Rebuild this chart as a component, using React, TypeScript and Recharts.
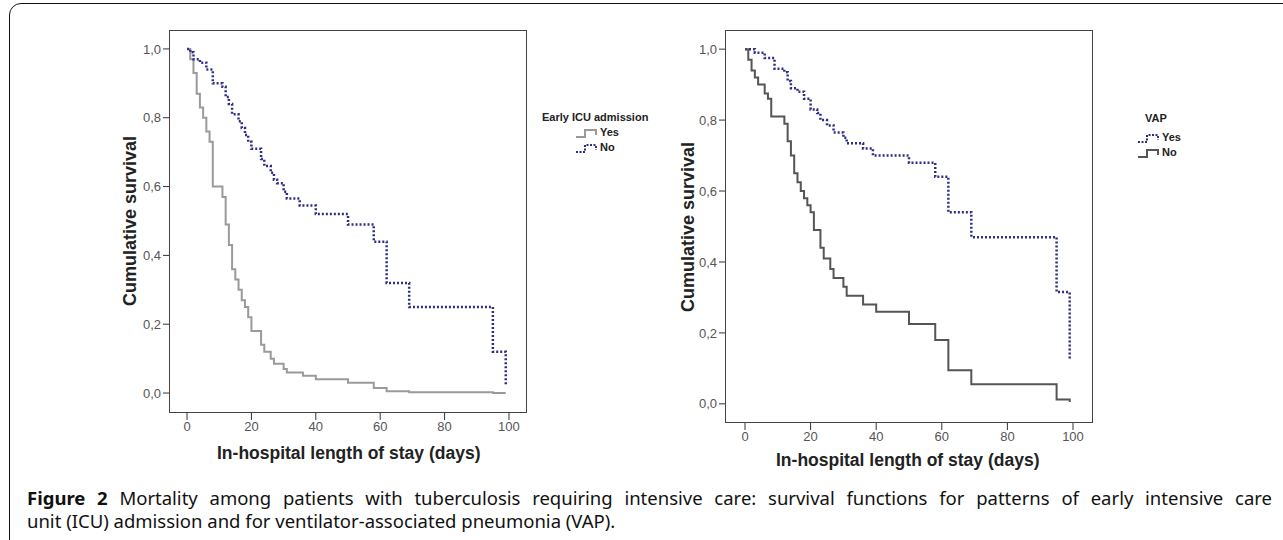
import React from 'react';
import { LineChart, Line, XAxis, YAxis } from 'recharts';

// Early ICU admission (left panel)
const icuYesTimes = [0, 1, 2, 3, 4, 5, 6, 7, 8, 11, 12, 13, 14, 15, 16, 17, 18, 19, 20, 23, 24, 26, 27, 30, 31, 36, 40, 50, 58, 62, 69, 95, 99];
const icuYesSurv = [1.0, 0.97, 0.93, 0.87, 0.83, 0.8, 0.76, 0.73, 0.6, 0.57, 0.49, 0.43, 0.36, 0.33, 0.3, 0.27, 0.25, 0.22, 0.18, 0.14, 0.12, 0.1, 0.085, 0.07, 0.06, 0.05, 0.04, 0.03, 0.015, 0.005, 0.002, 0.0, 0.0];
const icuNoTimes = [0, 1, 2, 4, 6, 8, 11, 12, 13, 14, 16, 17, 18, 19, 20, 23, 24, 26, 27, 28, 30, 31, 35, 40, 50, 58, 62, 69, 95, 99];
const icuNoSurv = [1.0, 0.99, 0.97, 0.96, 0.94, 0.9, 0.89, 0.86, 0.84, 0.81, 0.79, 0.77, 0.75, 0.73, 0.71, 0.68, 0.66, 0.64, 0.62, 0.61, 0.585, 0.565, 0.545, 0.52, 0.49, 0.44, 0.32, 0.25, 0.12, 0.02];

// VAP (right panel)
const vapYesTimes = [0, 3, 6, 9, 12, 13, 14, 16, 18, 20, 22, 23, 25, 27, 30, 31, 36, 39, 50, 58, 62, 69, 95, 99];
const vapYesSurv = [1.0, 0.99, 0.975, 0.945, 0.935, 0.91, 0.89, 0.88, 0.86, 0.83, 0.82, 0.8, 0.785, 0.765, 0.75, 0.735, 0.72, 0.7, 0.68, 0.64, 0.54, 0.47, 0.315, 0.125];
const vapNoTimes = [0, 1, 2, 3, 4, 6, 7, 8, 12, 13, 14, 15, 16, 17, 18, 19, 20, 21, 23, 24, 26, 27, 30, 31, 36, 40, 50, 58, 62, 69, 95, 99];
const vapNoSurv = [1.0, 0.97, 0.94, 0.92, 0.9, 0.875, 0.86, 0.81, 0.79, 0.74, 0.7, 0.65, 0.625, 0.6, 0.58, 0.56, 0.54, 0.49, 0.44, 0.41, 0.38, 0.355, 0.33, 0.305, 0.28, 0.26, 0.225, 0.18, 0.095, 0.055, 0.012, 0.005];

const xTicks = [0, 20, 40, 60, 80, 100];
const yTicks = [0, 0.2, 0.4, 0.6, 0.8, 1.0];

const toRows = (t: number[], s: number[]) => t.map((x, i) => ({ t: x, s: s[i] }));

const BLUE = '#2e2e86';
const tickStyle = { fill: '#555', fontSize: 13, fontFamily: 'Liberation Sans, Arial' };
const axisLabel: React.CSSProperties = { position: 'absolute', fontFamily: 'Liberation Sans, Arial', fontWeight: 'bold', fontSize: 17.5, lineHeight: '20px', color: '#222', whiteSpace: 'nowrap' };

interface PanelProps {
  frame: [number, number, number, number]; // x0, y0, x1, y1 of plot box
  xDomain: [number, number]; yDomain: [number, number];
  series: { data: { t: number; s: number }[]; color: string; dash?: string; width: number }[];
}

function Panel({ frame, xDomain, yDomain, series }: PanelProps) {
  const [x0, y0, x1, y1] = frame;
  const W = 1283, H = 480;
  return (
    <div style={{ position: 'absolute', left: 0, top: 0, width: W, height: H }}>
      <LineChart width={W} height={H} margin={{ left: x0 - 45, top: y0, right: W - x1, bottom: H - y1 - 30 }}>
        <XAxis type="number" dataKey="t" domain={xDomain} ticks={xTicks} allowDataOverflow height={30}
          axisLine={false} tickSize={7} tick={tickStyle} tickLine={{ stroke: '#333' }} />
        <YAxis type="number" dataKey="s" domain={yDomain} ticks={yTicks} allowDataOverflow width={45}
          axisLine={false} tickSize={6} tick={tickStyle} tickLine={{ stroke: '#333' }}
          tickFormatter={(v: number) => v.toFixed(1).replace('.', ',')} />
        {series.map((s, i) => (
          <Line key={i} data={s.data} dataKey="s" type="stepAfter" stroke={s.color} strokeWidth={s.width}
            strokeDasharray={s.dash} dot={false} isAnimationActive={false} />
        ))}
      </LineChart>
      <div style={{ position: 'absolute', left: x0, top: y0, width: x1 - x0, height: y1 - y0, border: '1.5px solid #444', boxSizing: 'border-box', pointerEvents: 'none' }} />
    </div>
  );
}

function LegendIcon({ color, dash }: { color: string; dash?: string }) {
  return (
    <svg width={25} height={11} style={{ verticalAlign: 'middle' }}>
      <polyline points="1,9 10,9 10,2 21,2 21,7" fill="none" stroke={color} strokeWidth={2} strokeDasharray={dash} />
    </svg>
  );
}

const legendText: React.CSSProperties = { fontFamily: 'Liberation Sans, Arial', fontWeight: 'bold', fontSize: 11, color: '#222', lineHeight: '15px', whiteSpace: 'nowrap' };
const captionText: React.CSSProperties = { fontFamily: '"Noto Sans", "Open Sans", sans-serif', fontSize: 18.5, lineHeight: '23px', color: '#111' };

export default function App() {
  return (
    <div style={{ position: 'absolute', left: 0, top: 0, width: 1283, height: 540, background: '#fff', overflow: 'hidden' }}>
      <div style={{ position: 'absolute', left: 9, top: 3, width: 1290, height: 560, border: '1.5px solid #111', borderRadius: 12, boxSizing: 'border-box' }} />

      <Panel frame={[169, 30, 527, 413]} xDomain={[-5.6, 105.6]} yDomain={[-0.058, 1.055]}
        series={[
          { data: toRows(icuYesTimes, icuYesSurv), color: '#9a9a9a', width: 2 },
          { data: toRows(icuNoTimes, icuNoSurv), color: BLUE, dash: '2 2', width: 2.5 },
        ]} />
      <Panel frame={[725, 30, 1093, 423]} xDomain={[-6.1, 106.1]} yDomain={[-0.054, 1.054]}
        series={[
          { data: toRows(vapYesTimes, vapYesSurv), color: BLUE, dash: '2 2', width: 2.5 },
          { data: toRows(vapNoTimes, vapNoSurv), color: '#555', width: 2 },
        ]} />

      <div style={{ ...axisLabel, left: 217, top: 443 }}>In-hospital length of stay (days)</div>
      <div style={{ ...axisLabel, left: 776, top: 450 }}>In-hospital length of stay (days)</div>
      <div style={{ ...axisLabel, fontSize: 18, left: 130 - 100, top: 221 - 10, width: 200, textAlign: 'center', transform: 'rotate(-90deg)' }}>Cumulative survival</div>
      <div style={{ ...axisLabel, fontSize: 18, left: 688 - 100, top: 227 - 10, width: 200, textAlign: 'center', transform: 'rotate(-90deg)' }}>Cumulative survival</div>

      <div style={{ position: 'absolute', left: 542, top: 110 }}>
        <div style={legendText}>Early ICU admission</div>
        <div style={{ ...legendText, paddingLeft: 33 }}><LegendIcon color="#9a9a9a" />Yes</div>
        <div style={{ ...legendText, paddingLeft: 33 }}><LegendIcon color={BLUE} dash="2 1.5" />No</div>
      </div>
      <div style={{ position: 'absolute', left: 1137, top: 111 }}>
        <div style={{ ...legendText, paddingLeft: 8, marginBottom: 4 }}>VAP</div>
        <div style={legendText}><LegendIcon color={BLUE} dash="2 1.5" />Yes</div>
        <div style={legendText}><LegendIcon color="#555" />No</div>
      </div>

      <div style={{ position: 'absolute', left: 27, top: 486, width: 1245 }}>
        <div style={{ ...captionText, textAlign: 'justify', textAlignLast: 'justify', whiteSpace: 'nowrap' }}>
          <b>Figure 2</b> Mortality among patients with tuberculosis requiring intensive care: survival functions for patterns of early intensive care
        </div>
        <div style={captionText}>unit (ICU) admission and for ventilator-associated pneumonia (VAP).</div>
      </div>
    </div>
  );
}
